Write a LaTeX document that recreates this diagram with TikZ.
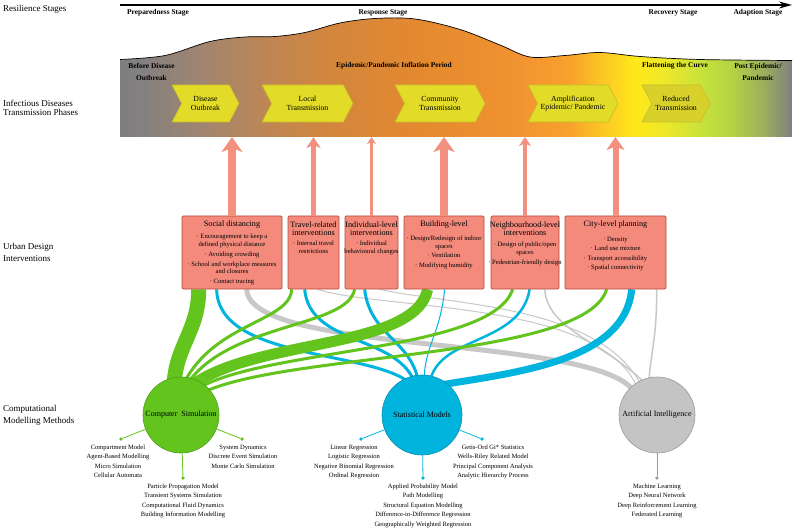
\documentclass[tikz,border=0pt]{standalone}
\usepackage{fontspec}
\setmainfont{Liberation Serif}
\usetikzlibrary{arrows.meta,shapes.symbols,calc,backgrounds}

\definecolor{bg0}{HTML}{7F7F7F}
\definecolor{bg1}{HTML}{838080}
\definecolor{bg2}{HTML}{A08570}
\definecolor{bg3}{HTML}{BB8657}
\definecolor{bg4}{HTML}{D3863D}
\definecolor{bg5}{HTML}{E4892F}
\definecolor{bg6}{HTML}{F29331}
\definecolor{bg7}{HTML}{F8A22C}
\definecolor{bg8}{HTML}{FDD022}
\definecolor{bg9}{HTML}{FFE81A}
\definecolor{bg10}{HTML}{EDE82A}
\definecolor{bg11}{HTML}{C8E23C}
\definecolor{bg12}{HTML}{B5D444}
\definecolor{bg13}{HTML}{9DAE5E}
\definecolor{bg14}{HTML}{7F7F7F}
\pgfdeclarehorizontalshading{bandshade}{100bp}{color(0bp)=(bg0); color(25bp)=(bg0); color(26.5bp)=(bg1); color(31bp)=(bg2); color(35.4bp)=(bg3); color(40.6bp)=(bg4); color(47.3bp)=(bg5); color(54.8bp)=(bg6); color(58.5bp)=(bg7); color(61.5bp)=(bg8); color(63.3bp)=(bg9); color(65.6bp)=(bg10); color(68.2bp)=(bg11); color(70.4bp)=(bg12); color(72.9bp)=(bg13); color(75bp)=(bg14); color(100bp)=(bg14)}

\definecolor{chevfill}{HTML}{E2DC28}
\definecolor{chevdark}{HTML}{D8D12C}
\definecolor{chevline}{HTML}{C6BC2A}
\definecolor{boxfill}{HTML}{F38A7C}
\definecolor{boxline}{HTML}{B8473C}
\definecolor{arrowpink}{HTML}{F4907F}
\definecolor{csgreen}{HTML}{62C41D}
\definecolor{csline}{HTML}{4E9E18}
\definecolor{smblue}{HTML}{00B4DE}
\definecolor{smline}{HTML}{0A8DB0}
\definecolor{aigrey}{HTML}{C4C4C4}
\definecolor{ailine}{HTML}{9A9A9A}
\definecolor{greyflow}{HTML}{C8C8C8}

\begin{document}
\begin{tikzpicture}[x=1pt,y=-1pt,
  lefttxt/.style={font=\fontsize{9}{11}\selectfont, anchor=west, align=left, inner sep=0},
  stagelbl/.style={font=\bfseries\fontsize{7.4}{9}\selectfont, inner sep=0},
  bandlbl/.style={font=\bfseries\fontsize{7.4}{11.7}\selectfont, inner sep=0, align=center},
  chev/.style={shape=signal, signal to=east, signal from=west, signal pointer angle=125,
    fill=chevfill, draw=chevline, line width=0.6, minimum height=37, inner xsep=1, inner ysep=0,
    align=center, font=\fontsize{7.8}{8.5}\selectfont},
  ubox/.style={draw=boxline, fill=boxfill, line width=0.7, rounded corners=1.2, inner sep=0, minimum height=73},
  boxtitle/.style={font=\fontsize{8.2}{8.3}\selectfont, align=center, inner sep=0},
  boxitem/.style={font=\fontsize{6.6}{7.3}\selectfont, align=center, inner sep=0, anchor=north},
  method/.style={circle, minimum size=76, inner sep=0, line width=0.6, font=\fontsize{8}{9}\selectfont},
  dotnode/.style={circle, inner sep=0, minimum size=3.6},
  mlist/.style={font=\fontsize{6.5}{9.5}\selectfont, align=center, inner sep=0, anchor=north},
  flow/.style={line cap=butt}
]
\useasboundingbox (0,0) rectangle (794,529);

% ---------- left labels
\node[lefttxt] (lRes) at (3,9) {Resilience Stages};
\node[lefttxt, font=\fontsize{9}{9}\selectfont] (lInf) at (3,107.5) {Infectious Diseases\\Transmission Phases};
\node[lefttxt, font=\fontsize{9}{12}\selectfont] (lUrb) at (3,252) {Urban Design\\Interventions};
\node[lefttxt, font=\fontsize{9}{12}\selectfont] (lCom) at (3,415) {Computational\\Modelling Methods};

% ---------- axis
\coordinate (axL) at (120,5);
\coordinate (axR) at (792,5);
\draw[line width=1.3, -{Stealth[length=13pt,width=7pt]}] (axL) -- (axR);
\node[stagelbl] (s1) at (158,13) {Preparedness Stage};
\node[stagelbl] (s2) at (383,13) {Response Stage};
\node[stagelbl] (s3) at (673,13) {Recovery Stage};
\node[stagelbl] (s4) at (758,13) {Adaption Stage};

% ---------- band
\shade[shading=bandshade] (120,137) -- plot[smooth,tension=0.55] coordinates {(120,59.5) (165,55.5) (210,41.5) (245,37) (275,36.5) (305,32.5) (340,23) (375,18.5) (415,19) (460,29.5) (500,45) (530,57) (565,55.5) (600,52.5) (640,56.5) (700,59.5) (792,60.5)} -- (792,137) -- cycle;
\draw[line width=0.7] plot[smooth,tension=0.55] coordinates {(120,59.5) (165,55.5) (210,41.5) (245,37) (275,36.5) (305,32.5) (340,23) (375,18.5) (415,19) (460,29.5) (500,45) (530,57) (565,55.5) (600,52.5) (640,56.5) (700,59.5) (792,60.5)};
\coordinate (bandbot) at (0,137);

\node[bandlbl] (e1) at (151.5,72) {Before Disease\\Outbreak};
\node[bandlbl] (e2) at (394,66) {Epidemic/Pandemic Inflation Period};
\node[bandlbl] (e3) at (675,66) {Flattening the Curve};
\node[bandlbl] (e4) at (758,72) {Post Epidemic/\\Pandemic};

\node[chev, minimum width=67] (p1) at (205.5,103.5) {Disease\\Outbreak};
\node[chev, minimum width=91] (p2) at (307.5,103.5) {Local\\Transmission};
\node[chev, minimum width=90] (p3) at (440,103.5) {Community\\Transmission};
\node[chev, minimum width=90] (p4) at (573,103.5) {Amplification\\Epidemic/ Pandemic};
\node[chev, minimum width=68, fill=chevdark] (p5) at (676,103.5) {Reduced\\Transmission};

% ---------- boxes
\node[ubox, minimum width=100] (b1) at (232,252.5) {};
\node[ubox, minimum width=51] (b2) at (313.5,252.5) {};
\node[ubox, minimum width=53] (b3) at (371.5,252.5) {};
\node[ubox, minimum width=80] (b4) at (444,252.5) {};
\node[ubox, minimum width=68] (b5) at (525,252.5) {};
\node[ubox, minimum width=101] (b6) at (615.5,252.5) {};

\node[boxtitle] (t1) at (232,225) {Social distancing};
\node[boxtitle] (t2) at (313.5,229) {Travel-related\\interventions};
\node[boxtitle] (t3) at (371.5,229) {Individual-level\\interventions};
\node[boxtitle] (t4) at (444,225) {Building-level};
\node[boxtitle] (t5) at (525,229) {Neighbourhood-level\\interventions};
\node[boxtitle] (t6) at (615.5,225) {City-level planning};

\node[boxitem] (i1) at (232,234) {· Encouragement to keep a\\defined physical distance\\[2.7pt]· Avoiding crowding\\[2.7pt]· School and workplace measures\\and closures\\[2.7pt]· Contact tracing};
\node[boxitem] (i2) at (313.5,241) {· Internal travel\\restrictions};
\node[boxitem] (i3) at (371.5,241) {· Individual\\behavioural changes};
\node[boxitem] (i4) at (444,236) {· Design/Redesign of indoor\\spaces\\[2.2pt]· Ventilation\\[2.2pt]· Modifying humidity};
\node[boxitem] (i5) at (525,242) {· Design of public/open\\spaces\\[2.7pt]· Pedestrian-friendly design};
\node[boxitem] (i6) at (615.5,237) {· Density\\[2pt]· Land use mixture\\[2pt]· Transport accessibility\\[2pt]· Spatial connectivity};

% ---------- up arrows
\draw[arrowpink, line width=8, -{Stealth[length=15pt,width=21pt,inset=4pt]}] (b1.north) -- (b1.north |- bandbot);
\draw[arrowpink, line width=5, -{Stealth[length=11pt,width=14pt,inset=3pt]}] (b2.north) -- (b2.north |- bandbot);
\draw[arrowpink, line width=2.2, -{Stealth[length=7pt,width=9pt,inset=2pt]}] (b3.north) -- (b3.north |- bandbot);
\draw[arrowpink, line width=8, -{Stealth[length=15pt,width=21pt,inset=4pt]}] (b4.north) -- (b4.north |- bandbot);
\draw[arrowpink, line width=3.5, -{Stealth[length=9pt,width=12pt,inset=2.5pt]}] (b5.north) -- (b5.north |- bandbot);
\draw[arrowpink, line width=6, -{Stealth[length=13pt,width=18pt,inset=3.5pt]}] (b6.north) -- (b6.north |- bandbot);

% ---------- method circles
\node[method, fill=csgreen, draw=csline] (cs) at (181,415) {Computer\enspace Simulation};
\node[method, fill=smblue, draw=smline, minimum size=80] (sm) at (422,415) {Statistical Models};
\node[method, fill=aigrey, draw=ailine] (ai) at (657,415) {Artificial Intelligence};

\node[dotnode, fill=csgreen] (csL) at (121,439) {};
\node[dotnode, fill=csgreen] (csR) at (242,439) {};
\node[dotnode, fill=csgreen] (csB) at (183,478) {};
\node[dotnode, fill=smblue] (smL) at (361,439) {};
\node[dotnode, fill=smblue] (smR) at (482,439) {};
\node[dotnode, fill=smblue] (smB) at (423,478) {};
\node[dotnode, fill=aigrey!80!black] (aiB) at (657,478) {};

\node[mlist] (L1) at (118,444.5) {Compartment Model\\Agent-Based Modelling\\Micro Simulation\\Cellular Automata};
\node[mlist] (L2) at (243,444.5) {System Dynamics\\Discrete Event Simulation\\Monte Carlo Simulation};
\node[mlist] (L3) at (183,483.5) {Particle Propagation Model\\Transient Systems Simulation\\Computational Fluid Dynamics\\Building Information Modelling};
\node[mlist] (L4) at (354,444.5) {Linear Regression\\Logistic Regression\\Negative Binomial Regression\\Ordinal Regression};
\node[mlist] (L5) at (493,444.5) {Getis-Ord Gi* Statistics\\Wells-Riley Related Model\\Principal Component Analysis\\Analytic Hierarchy Process};
\node[mlist] (L6) at (423,483.5) {Applied Probability Model\\Path Modelling\\Structural Equation Modelling\\Difference-in-Difference Regression\\Geographically Weighted Regression};
\node[mlist] (L7) at (657,483.5) {Machine Learning\\Deep Neural Network\\Deep Reinforcement Learning\\Federated Learning};

% ---------- flows (background)
\begin{pgfonlayer}{background}
\fill[white] (0,0) rectangle (794,529);
\draw[csgreen, line width=0.8] (cs) -- (csL);
\draw[csgreen, line width=0.8] (cs) -- (csR);
\draw[csgreen, line width=0.8] (cs) -- (csB);
\draw[smblue, line width=0.8] (sm) -- (smL);
\draw[smblue, line width=0.8] (sm) -- (smR);
\draw[smblue, line width=0.8] (sm) -- (smB);
\draw[ailine, line width=0.8] (ai) -- (aiB);
% grey
\draw[flow, greyflow, line width=5] ($(b1.south west)+(65,0)$) .. controls (250,355) and (590,335) .. ($(ai)+(-24,-25)$);
\draw[flow, greyflow, line width=1] ($(b2.south west)+(30,0)$) .. controls (380,310) and (600,300) .. ($(ai)+(-20,-28)$);
\draw[flow, greyflow, line width=1] ($(b3.south west)+(35,0)$) .. controls (450,305) and (600,305) .. ($(ai)+(-16,-30)$);
\draw[flow, greyflow, line width=1.5] ($(b5.south west)+(54,0)$) .. controls (548,330) and (600,340) .. ($(ai)+(-12,-32)$);
\draw[flow, greyflow, line width=1.5] ($(b6.south west)+(92,0)$) .. controls (657,340) and (650,355) .. ($(ai)+(-8,-33)$);
% blue
\draw[flow, smblue, line width=3] ($(b1.south west)+(35,0)$) .. controls (218,360) and (370,350) .. ($(sm)+(-12,-32)$);
\draw[flow, smblue, line width=3] ($(b2.south west)+(17,0)$) .. controls (310,345) and (395,335) .. ($(sm)+(-8,-34)$);
\draw[flow, smblue, line width=3] ($(b3.south west)+(20,0)$) .. controls (370,335) and (410,340) .. ($(sm)+(-4,-35)$);
\draw[flow, smblue, line width=1] ($(b4.south west)+(41,0)$) .. controls (440,335) and (425,345) .. ($(sm)+(2,-35)$);
\draw[flow, smblue, line width=2.5] ($(b5.south west)+(39,0)$) .. controls (520,345) and (440,335) .. ($(sm)+(8,-34)$);
\draw[flow, smblue, line width=7] ($(b6.south west)+(67,0)$) .. controls (625,360) and (520,372) .. ($(sm)+(18,-30)$);
% green
\draw[flow, csgreen, line width=15] ($(b1.south west)+(17,0)$) .. controls (199,330) and (176,345) .. ($(cs)+(-7,-30)$);
\draw[flow, csgreen, line width=3] ($(b2.south west)+(4,0)$) .. controls (290,322) and (215,322) .. ($(cs)+(3,-32)$);
\draw[flow, csgreen, line width=3] ($(b3.south west)+(10,0)$) .. controls (347,328) and (230,322) .. ($(cs)+(6,-31)$);
\draw[flow, csgreen, line width=11] ($(b4.south west)+(24,0)$) .. controls (415,350) and (255,338) .. ($(cs)+(10,-29)$);
\draw[flow, csgreen, line width=3] ($(b5.south west)+(22,0)$) .. controls (492,352) and (265,348) .. ($(cs)+(16,-26)$);
\draw[flow, csgreen, line width=3] ($(b6.south west)+(42,0)$) .. controls (585,360) and (285,352) .. ($(cs)+(21,-22)$);
\end{pgfonlayer}
\end{tikzpicture}
\end{document}
